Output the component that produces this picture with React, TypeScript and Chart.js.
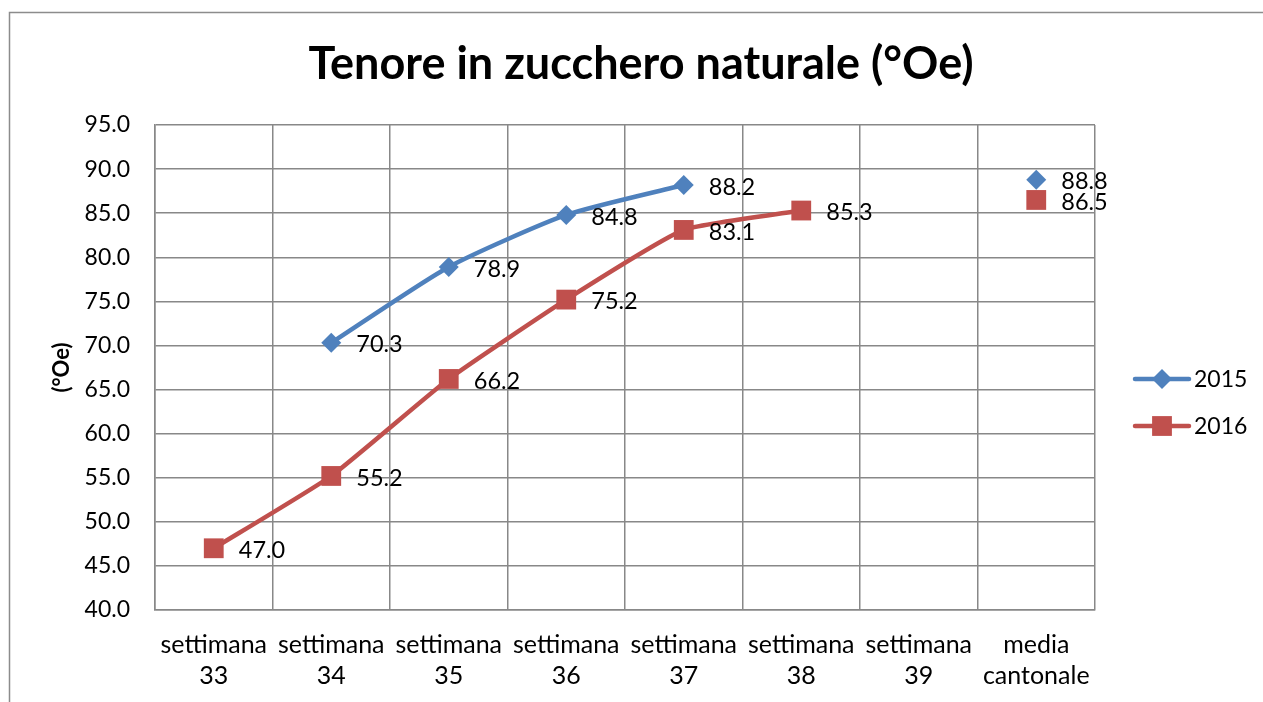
import React, { useEffect, useRef } from "react";
import { Chart, registerables } from "chart.js";
Chart.register(...registerables);

const categories: string[][] = [
  ["settimana", "33"],
  ["settimana", "34"],
  ["settimana", "35"],
  ["settimana", "36"],
  ["settimana", "37"],
  ["settimana", "38"],
  ["settimana", "39"],
  ["media", "cantonale"],
];
const series2015: (number | null)[] = [null, 70.3, 78.9, 84.8, 88.2, null, null, 88.8];
const series2016: (number | null)[] = [47.0, 55.2, 66.2, 75.2, 83.1, 85.3, null, 86.5];
const seriesNames = ["2015", "2016"];
const titleText = "Tenore in zucchero naturale (°Oe)";
const yTitleText = "(°Oe)";
const yMin = 40;
const yMax = 95;
const yStep = 5;

const BLUE = "#4F81BD";
const RED = "#C0504D";
const GRID = "#888888";
const FONT = "Lato";

const W = 1263;
const H = 702;

function drawMarker(ctx: CanvasRenderingContext2D, style: string, r: number, x: number, y: number) {
  ctx.beginPath();
  if (style === "rectRot") {
    ctx.moveTo(x - r, y);
    ctx.lineTo(x, y - r);
    ctx.lineTo(x + r, y);
    ctx.lineTo(x, y + r);
    ctx.closePath();
  } else {
    const s = r * Math.SQRT1_2;
    ctx.rect(x - s, y - s, 2 * s, 2 * s);
  }
  ctx.fill();
}

const decorPlugin = {
  id: "decor",
  beforeDraw(chart: any) {
    const ctx = chart.ctx;
    ctx.save();
    ctx.fillStyle = "#fff";
    ctx.fillRect(0, 0, W, H);
    ctx.strokeStyle = "#8c8c8c";
    ctx.lineWidth = 1.5;
    ctx.beginPath();
    ctx.moveTo(9.5, H);
    ctx.lineTo(9.5, 12.5);
    ctx.lineTo(W, 12.5);
    ctx.stroke();
    ctx.restore();
  },
  afterDraw(chart: any) {
    const ctx = chart.ctx;
    const area = chart.chartArea;
    ctx.save();
    ctx.fillStyle = "#000";
    ctx.font = `bold 45px ${FONT}`;
    ctx.textAlign = "center";
    ctx.textBaseline = "alphabetic";
    ctx.fillText(titleText, 641, 79);
    ctx.save();
    ctx.translate(62, (area.top + area.bottom) / 2);
    ctx.rotate(-Math.PI / 2);
    ctx.font = `bold 22px ${FONT}`;
    ctx.textBaseline = "middle";
    ctx.fillText(yTitleText, 0, 0);
    ctx.restore();
    const items = [
      { name: seriesNames[0], color: BLUE, style: "rectRot", r: 10, y: 379 },
      { name: seriesNames[1], color: RED, style: "rect", r: 14, y: 426 },
    ];
    for (const it of items) {
      ctx.strokeStyle = it.color;
      ctx.lineWidth = 4.5;
      ctx.lineCap = "round";
      ctx.beginPath();
      ctx.moveTo(1135, it.y);
      ctx.lineTo(1189, it.y);
      ctx.stroke();
      ctx.fillStyle = it.color;
      drawMarker(ctx, it.style, it.r, 1162, it.y);
      ctx.fillStyle = "#000";
      ctx.font = `23px ${FONT}`;
      ctx.textAlign = "left";
      ctx.textBaseline = "middle";
      ctx.fillText(it.name, 1194, it.y + 1);
    }
    ctx.restore();
  },
  afterDatasetsDraw(chart: any) {
    const ctx = chart.ctx;
    ctx.save();
    ctx.fillStyle = "#000";
    ctx.font = `23.5px ${FONT}`;
    ctx.textAlign = "left";
    ctx.textBaseline = "middle";
    chart.data.datasets.forEach((ds: any, i: number) => {
      const meta = chart.getDatasetMeta(i);
      meta.data.forEach((pt: any, j: number) => {
        const v = ds.data[j];
        if (v === null || v === undefined) return;
        ctx.fillText(v.toFixed(1), pt.x + 25, pt.y + 2);
      });
    });
    ctx.restore();
  },
};

export default function App() {
  const ref = useRef<HTMLCanvasElement>(null);
  useEffect(() => {
    if (!ref.current) return;
    const chart = new Chart(ref.current, {
      type: "line",
      data: {
        labels: categories,
        datasets: [
          {
            label: seriesNames[0],
            data: series2015,
            borderColor: BLUE,
            backgroundColor: BLUE,
            borderWidth: 4.5,
            pointStyle: "rectRot",
            pointRadius: 10,
            pointHoverRadius: 10,
            pointBorderWidth: 0,
            tension: 0.2,
            spanGaps: false,
          },
          {
            label: seriesNames[1],
            data: series2016,
            borderColor: RED,
            backgroundColor: RED,
            borderWidth: 4.5,
            pointStyle: "rect",
            pointRadius: 14,
            pointHoverRadius: 14,
            pointBorderWidth: 0,
            tension: 0.15,
            spanGaps: false,
          },
        ],
      },
      options: {
        animation: false,
        responsive: false,
        devicePixelRatio: 1,
        layout: { padding: { top: 125, right: W - 1095, left: 0, bottom: 0 } },
        plugins: {
          legend: { display: false },
          title: { display: false },
          tooltip: { enabled: false },
        },
        scales: {
          x: {
            offset: true,
            grid: { offset: true, color: GRID, lineWidth: 1.5, drawTicks: false },
            border: { color: GRID, width: 1.5 },
            ticks: {
              color: "#000",
              font: { family: FONT, size: 25, lineHeight: 1.25 },
              padding: 19,
              maxRotation: 0,
              autoSkip: false,
            },
            afterFit(scale: any) {
              scale.height = H - 610;
            },
          },
          y: {
            min: yMin,
            max: yMax,
            grid: { color: GRID, lineWidth: 1.5, drawTicks: false },
            border: { color: GRID, width: 1.5 },
            ticks: {
              stepSize: yStep,
              color: "#000",
              font: { family: FONT, size: 23 },
              padding: 25,
              callback: (v: any) => Number(v).toFixed(1),
            },
            afterFit(scale: any) {
              scale.width = 155;
            },
          },
        },
      },
      plugins: [decorPlugin],
    } as any);
    return () => chart.destroy();
  }, []);
  return (
    <canvas
      ref={ref}
      width={W}
      height={H}
      style={{ position: "fixed", left: 0, top: 0, width: W, height: H }}
    />
  );
}
